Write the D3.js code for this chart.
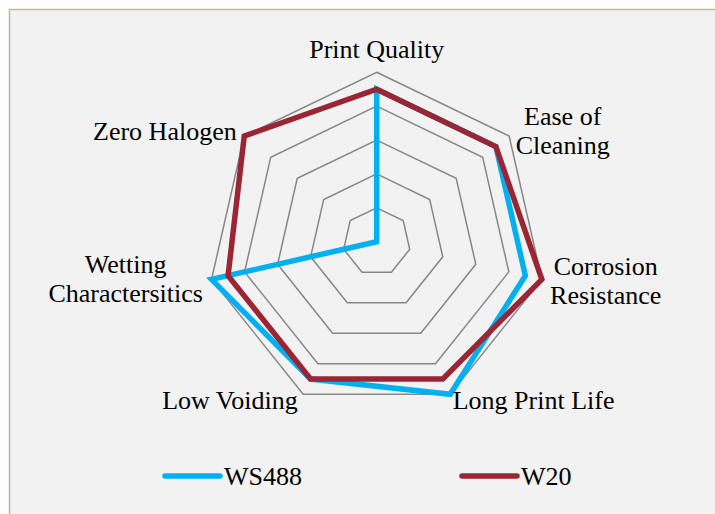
<!DOCTYPE html>
<html>
<head>
<meta charset="utf-8">
<script src="https://cdn.jsdelivr.net/npm/d3@7"></script>
<style>
  html, body { margin: 0; padding: 0; background: #ffffff; }
  svg { display: block; }
  svg text { font-family: "Liberation Serif", "Times New Roman", Times, "DejaVu Serif", serif; }
</style>
</head>
<body>
<svg id="chart" width="715" height="514"></svg>
<script>
// Chart data
const categories = ["Print Quality", "Ease of Cleaning", "Corrosion Resistance", "Long Print Life",
  "Low Voiding", "Wetting Charactersitics", "Zero Halogen"];
const labelLines = [["Print Quality"], ["Ease of", "Cleaning"], ["Corrosion", "Resistance"],
  ["Long Print Life"], ["Low Voiding"], ["Wetting", "Charactersitics"], ["Zero Halogen"]];
const ws488 = [4.5, 4.5, 4.5, 5, 4.5, 5, 0];
const w20 = [4.5, 4.5, 5, 4.5, 4.5, 4.5, 5];
const ringTicks = [1, 2, 3, 4, 5];

const series = [
  { name: "WS488", values: ws488, color: "#00b0f0" },
  { name: "W20", values: w20, color: "#9a2634" }
];

const width = 715, height = 514;
const cx = 376.7, cy = 241.7, radius = 169.4;

const svg = d3.select("#chart");

// Chart area background with the thin frame on the left and top
svg.append("rect")
  .attr("x", 9).attr("y", 9)
  .attr("width", width).attr("height", height)
  .attr("fill", "#f2f2f2");
svg.append("path")
  .attr("d", `M9.5,${height}V9.5H${width}`)
  .attr("fill", "none")
  .attr("stroke", "#c3b79c")
  .attr("stroke-width", 1.5);

const r = d3.scaleLinear().domain([0, 5]).range([0, radius]);
const angle = d3.scalePoint().domain(d3.range(categories.length))
  .range([0, 2 * Math.PI * (categories.length - 1) / categories.length]);

const g = svg.append("g").attr("transform", `translate(${cx},${cy})`);

const radial = d3.lineRadial()
  .angle((d, i) => angle(i))
  .radius(d => r(d))
  .curve(d3.curveLinearClosed);

// Grid rings
g.selectAll("path.ring")
  .data(ringTicks)
  .join("path")
  .attr("class", "ring")
  .attr("d", t => radial(categories.map(() => t)))
  .attr("fill", "none")
  .attr("stroke", "#878787")
  .attr("stroke-width", 1.5);

// Series
g.selectAll("path.series")
  .data(series)
  .join("path")
  .attr("class", "series")
  .attr("d", d => radial(d.values))
  .attr("fill", "none")
  .attr("stroke", d => d.color)
  .attr("stroke-width", 5.5)
  .attr("stroke-linejoin", "miter");

// Category labels (anchor points around the outer ring)
const labelPos = [
  { x: 0, y: -184, anchor: "middle" },
  { x: 186, y: -117, anchor: "middle" },
  { x: 229, y: 33, anchor: "middle" },
  { x: 76, y: 167, anchor: "start" },
  { x: -79, y: 167, anchor: "end" },
  { x: -251, y: 31, anchor: "middle" },
  { x: -140, y: -102, anchor: "end" }
];

labelLines.forEach((lines, i) => {
  const p = labelPos[i];
  const t = g.append("text")
    .attr("x", p.x).attr("y", p.y)
    .attr("text-anchor", p.anchor)
    .attr("font-size", 26)
    .attr("fill", "#000");
  lines.forEach((ln, j) => {
    t.append("tspan").attr("x", p.x).attr("dy", j === 0 ? 0 : 29.5).text(ln);
  });
});

// Legend
const legendX = [165, 462];
const legend = svg.append("g");
series.forEach((s, i) => {
  legend.append("line")
    .attr("x1", legendX[i]).attr("x2", legendX[i] + 55)
    .attr("y1", 476).attr("y2", 476)
    .attr("stroke", s.color)
    .attr("stroke-width", 5.5)
    .attr("stroke-linecap", "round");
  legend.append("text")
    .attr("x", legendX[i] + 59).attr("y", 485)
    .attr("font-size", 26)
    .attr("fill", "#000")
    .text(s.name);
});
</script>
</body>
</html>
